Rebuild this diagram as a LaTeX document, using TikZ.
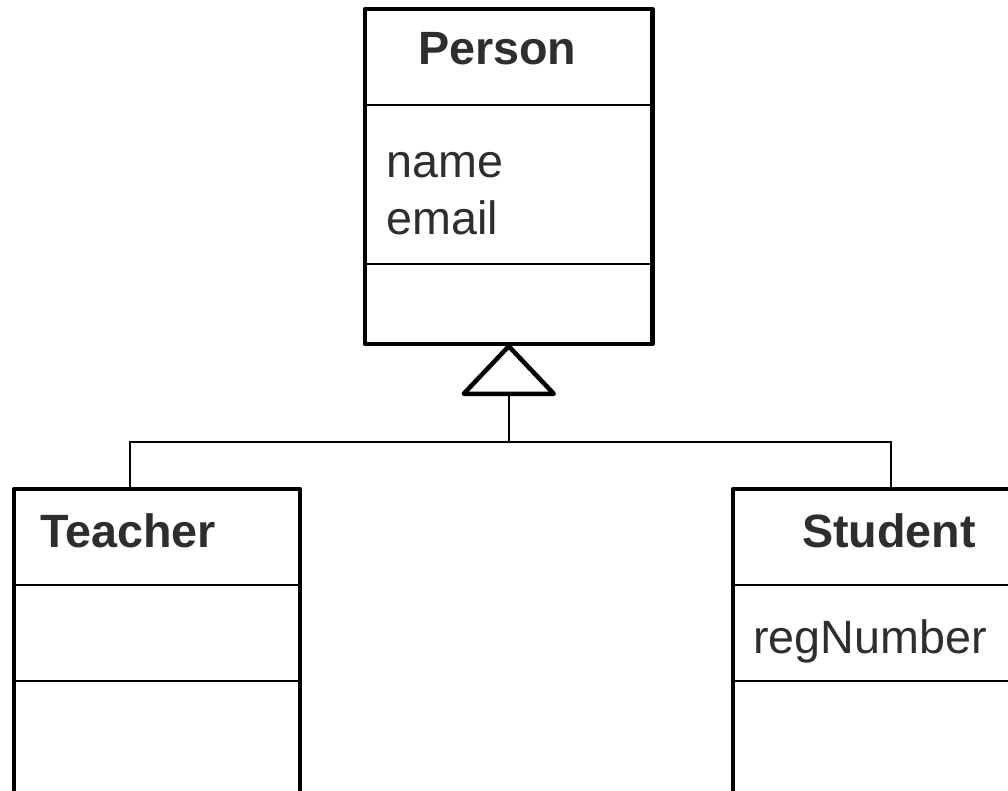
\documentclass[tikz,border=0pt]{standalone}
\usepackage{fontspec}
\setmainfont{Liberation Sans}
\usepackage{tikz}
\usetikzlibrary{calc,positioning}
\usepackage{color}
\definecolor{ink}{HTML}{2E2E2E}

\begin{document}
\begin{tikzpicture}
      [x = 1pt, y = -1pt,
      classbox/.style= {
         draw,
         line width = 4.5pt,
         inner sep = 0pt,
         line join = round
      },
      sep/.style= {line width = 1.8pt},
      link/.style= {line width = 1.8pt},
      title/.style= {
         text = ink,
         inner sep = 0pt,
         anchor = base west,
         font = \fontsize{46.7}{56}\selectfont\bfseries
      },
      attr/.style= {
         text = ink,
         inner sep = 0pt,
         anchor = base west,
         font = \fontsize{46.7}{56}\selectfont
      }]

      \useasboundingbox (0, 0) rectangle (1008, 791);

      \node[classbox, minimum width = 287.5pt, minimum height = 335pt] (person) at (508.75, 176.5) {};
      \node[classbox, minimum width = 286pt, minimum height = 304pt] (teacher) at (157, 641) {};
      \node[classbox, minimum width = 287pt, minimum height = 304pt] (student) at (876.5, 641) {};

      \draw[sep] (person.west |- 0, 105) -- (person.east |- 0, 105);
      \draw[sep] (person.west |- 0, 264) -- (person.east |- 0, 264);
      \draw[sep] (teacher.west |- 0, 585) -- (teacher.east |- 0, 585);
      \draw[sep] (teacher.west |- 0, 681) -- (teacher.east |- 0, 681);
      \draw[sep] (student.west |- 0, 585) -- (student.east |- 0, 585);
      \draw[sep] (student.west |- 0, 681) -- (student.east |- 0, 681);

      \node[title] (persontitle) at (418, 65) {Person};
      \node[attr] (name) at (386, 178) {name};
      \node[attr] (email) at (386, 235) {email};
      \node[title] (teachertitle) at (40, 547) {Teacher};
      \node[title] (studenttitle) at (802, 547) {Student};
      \node[attr] (regnumber) at (753, 653) {regNumber};

      \coordinate (base) at ($(person.south) + (0, 47.5)$);
      \coordinate (split) at ($(base) + (0, 48)$);

      \draw[line width = 4.5pt, line join = round, fill = white]
         (person.south) -- ($(base) + (-45, 0)$) -- ($(base) + (45, 0)$) -- cycle;
      \draw[link] (base) -- (split);
      \draw[link] ([xshift = -27pt]teacher.north) |- (split) -| ([xshift = 14.5pt]student.north);

   \end{tikzpicture}
\end{document}
